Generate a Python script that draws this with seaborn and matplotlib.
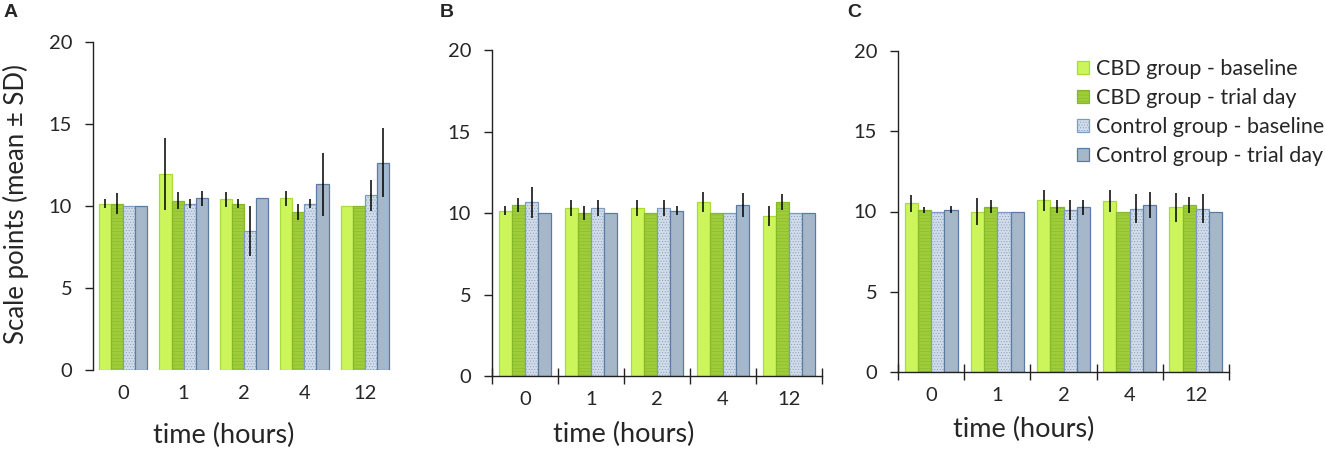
import numpy as np
import matplotlib
matplotlib.use("Agg")
import matplotlib.pyplot as plt
from matplotlib.patches import Patch
import seaborn as sns
import pandas as pd

# time points and groups
times = ["0", "1", "2", "4", "12"]
groups = ["CBD group - baseline", "CBD group - trial day",
          "Control group - baseline", "Control group - trial day"]

# panel A: rows = groups, columns = time points
means_a = [[10.15, 11.95, 10.4, 10.47, 10.0],
           [10.15, 10.33, 10.15, 9.65, 10.0],
           [10.0, 10.15, 8.5, 10.15, 10.65],
           [10.0, 10.47, 10.47, 11.32, 12.65]]
sds_a = [[0.25, 2.18, 0.44, 0.44, 0.0],
         [0.66, 0.5, 0.25, 0.49, 0.0],
         [0.0, 0.25, 1.53, 0.25, 0.96],
         [0.0, 0.44, 0.0, 1.9, 2.08]]

# panel B
means_b = [[10.15, 10.32, 10.32, 10.67, 9.81],
           [10.48, 10.0, 10.0, 10.0, 10.67],
           [10.67, 10.32, 10.32, 10.0, 10.0],
           [10.0, 10.0, 10.15, 10.48, 10.0]]
sds_b = [[0.27, 0.49, 0.49, 0.63, 0.63],
         [0.41, 0.43, 0.0, 0.0, 0.49],
         [0.95, 0.49, 0.49, 0.0, 0.0],
         [0.0, 0.0, 0.27, 0.72, 0.0]]

# panel C
means_c = [[10.5, 10.0, 10.71, 10.66, 10.25],
           [10.08, 10.29, 10.29, 10.0, 10.39],
           [10.0, 10.0, 10.08, 10.17, 10.17],
           [10.12, 10.0, 10.25, 10.39, 10.0]]
sds_c = [[0.52, 0.85, 0.66, 0.7, 0.91],
         [0.19, 0.41, 0.41, 0.0, 0.5],
         [0.0, 0.0, 0.62, 0.91, 0.91],
         [0.23, 0.0, 0.46, 0.81, 0.0]]

fills = ["#ccf55c", "#9fcd3a", "#d3dde9", "#a6b7ca"]
edges = ["#a8dc3a", "#86b82a", "#7d9bbf", "#5a7ca3"]
hatches = [None, "-----", "......", None]

sns.set_style("white")
plt.rcParams["font.family"] = ["Lato", "DejaVu Sans"]
plt.rcParams["hatch.linewidth"] = 0.4


def long_df(means):
    rows = []
    for g, row in zip(groups, means):
        for t, v in zip(times, row):
            rows.append({"time": t, "group": g, "value": v})
    return pd.DataFrame(rows)


def panel(ax, means, sds, show_xaxis):
    df = long_df(means)
    sns.barplot(data=df, x="time", y="value", hue="group", order=times,
                hue_order=groups, palette=fills, saturation=1, width=0.8,
                errorbar=None, legend=False, ax=ax)
    bar_conts = list(ax.containers)
    for i, cont in enumerate(bar_conts):
        xs, ys = [], []
        for p in cont.patches:
            p.set_edgecolor(edges[i])
            p.set_linewidth(0.9)
            if hatches[i]:
                p.set_hatch(hatches[i])
            xs.append(p.get_x() + p.get_width() / 2)
            ys.append(p.get_height())
        ax.errorbar(xs, ys, yerr=sds[i], fmt="none", ecolor="black",
                    elinewidth=1.1, capsize=0, zorder=5)
    ax.set_ylim(0, 20)
    ax.set_xlim(-0.5, 4.5)
    ax.set_yticks([0, 5, 10, 15, 20])
    ax.tick_params(axis="y", direction="out", length=6, width=1,
                   labelsize=14.5, pad=9, left=True, color="#222222")
    for s in ["top", "right"]:
        ax.spines[s].set_visible(False)
    ax.spines["left"].set_color("#222222")
    ax.spines["left"].set_linewidth(1)
    ax.set_xticks(np.arange(len(times)), minor=True)
    ax.set_xticklabels(times, minor=True)
    ax.tick_params(axis="x", which="minor", length=0, labelsize=14.5, pad=11)
    if show_xaxis:
        ax.spines["bottom"].set_color("#222222")
        ax.spines["bottom"].set_linewidth(1)
        ax.set_xticks(np.arange(-0.5, len(times), 1.0))
        ax.set_xticklabels([])
        ax.tick_params(axis="x", which="major", direction="inout",
                       length=12, width=1, bottom=True, color="#222222")
    else:
        ax.spines["bottom"].set_visible(False)
        ax.set_xticks([])
    ax.set_ylabel("")
    ax.set_xlabel("time (hours)", fontsize=19.5)


fig = plt.figure(figsize=(13.25, 4.51), dpi=100)
ax_a = fig.add_axes([93 / 1325, 1 - 370 / 451, 302 / 1325, 328 / 451])
ax_b = fig.add_axes([492 / 1325, 1 - 376 / 451, 330 / 1325, 326 / 451])
ax_c = fig.add_axes([898 / 1325, 1 - 372 / 451, 331 / 1325, 321 / 451])

panel(ax_a, means_a, sds_a, False)
panel(ax_b, means_b, sds_b, True)
panel(ax_c, means_c, sds_c, True)

ax_a.xaxis.set_label_coords(0.432, -0.16)
ax_b.xaxis.set_label_coords(0.398, -0.142)
ax_c.xaxis.set_label_coords(0.379, -0.141)

ax_a.set_ylabel("Scale points (mean \u00b1 SD)", fontsize=18.5)
ax_a.yaxis.set_label_coords(-0.212, 0.505)

# legend
handles = [Patch(facecolor=f, edgecolor=e, hatch=h, linewidth=0.9)
           for f, e, h in zip(fills, edges, hatches)]
fig.legend(handles, groups, loc="upper left", bbox_to_anchor=(1077 / 1325, 1 - 59 / 451),
           frameon=False, fontsize=15.5, handlelength=0.55, handleheight=0.55,
           handletextpad=0.35, labelspacing=0.42, borderpad=0, borderaxespad=0)

for letter, xp in zip(["A", "B", "C"], [4, 440, 847]):
    fig.text(xp / 1325, 1 - 4 / 451, letter, fontsize=14, fontweight="bold",
             family=["Liberation Sans", "DejaVu Sans"], va="top", ha="left")

fig.savefig("out.png", dpi=100)
